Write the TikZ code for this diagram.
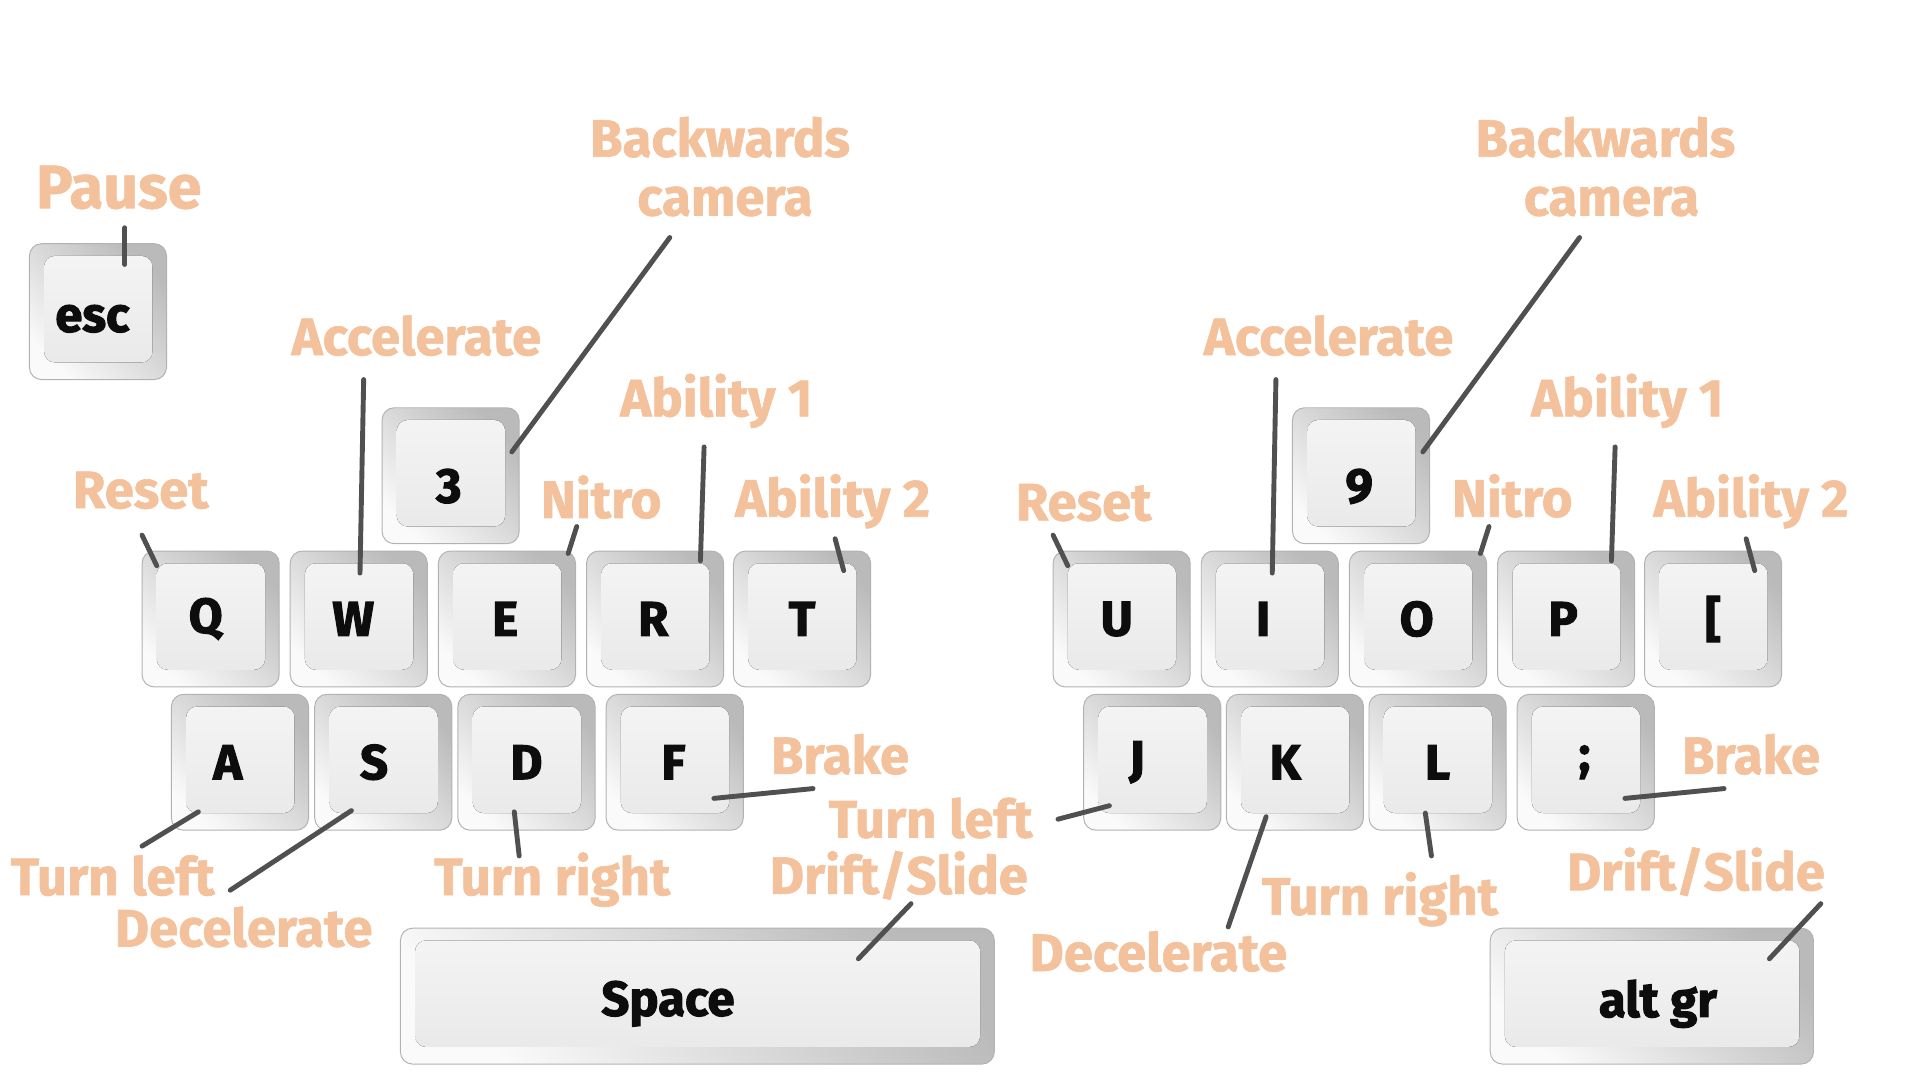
\documentclass[tikz,border=0pt]{standalone}
\usepackage{fontspec}
\setmainfont{Fira Sans}
\newfontfamily\keyfnt{Fira Sans}[BoldFeatures={FakeBold=2.2}]
\newfontfamily\lblfnt{Fira Sans}[BoldFeatures={FakeBold=1.2}]
\usetikzlibrary{calc}
\definecolor{lab}{HTML}{F3C19B}
\definecolor{conn}{HTML}{505050}
\begin{document}
\begin{tikzpicture}[x=1pt,y=-1pt,
  keybox/.style={minimum width=112pt, minimum height=111pt, inner sep=0pt,
    rounded corners=10pt, draw=black!30, line width=0.8pt,
    top color=black!27, bottom color=black!2, shading angle=-45,
    path picture={\fill[top color=black!4, bottom color=black!9, rounded corners=9pt]
      ([xshift=12pt,yshift=-10pt]path picture bounding box.north west) rectangle
      ([xshift=-11.5pt,yshift=14pt]path picture bounding box.south east);},
    font=\fontsize{40}{44}\selectfont\keyfnt\bfseries, text=black!95},
  lbl/.style={text=lab, font=\fontsize{43}{49}\selectfont\lblfnt\bfseries, anchor=base, inner sep=0pt},
  link/.style={draw=conn, line width=4pt, line cap=round}]
\useasboundingbox (0,0) rectangle (1568,882);
% ---------- left keyboard ----------
\node[keybox, text height=33pt, text depth=0pt] (esc) at (80,254.5) {esc\kern9pt};
\node[keybox, text height=44pt, text depth=0pt] (k3) at (368,388.5) {3\kern3pt};
\node[keybox] (Q) at (172,505.5) {Q\kern8pt};
\node[keybox] (W) at (293,505.5) {W\kern9pt};
\node[keybox] (E) at (414,505.5) {E\kern3pt};
\node[keybox] (R) at (535,505.5) {R\kern3pt};
\node[keybox] (T) at (655,505.5) {T};
\node[keybox] (A) at (196,622.5) {A\kern20pt};
\node[keybox] (S) at (313,622.5) {S\kern15pt};
\node[keybox] (D) at (430,622.5) {D};
\node[keybox] (F) at (551,622.5) {F\kern2pt};
\node[keybox, minimum width=485pt, text height=42pt, text depth=10pt] (space) at (569.5,813.5) {Space\kern48pt};
% ---------- right keyboard ----------
\node[keybox, text height=44pt, text depth=0pt] (k9) at (1111.5,388.5) {9\kern3pt};
\node[keybox] (U) at (916,505.5) {U\kern8pt};
\node[keybox] (I) at (1037,505.5) {I\kern11pt};
\node[keybox] (O) at (1158,505.5) {O\kern2pt};
\node[keybox] (P) at (1279,505.5) {P\kern5pt};
\node[keybox] (lb) at (1399,505.5) {[};
\node[keybox] (J) at (941,622.5) {J\kern25pt};
\node[keybox] (K) at (1057.5,622.5) {K\kern16pt};
\node[keybox] (L) at (1174,622.5) {L};
\node[keybox] (sc) at (1295,622.5) {;\kern2pt};
\node[keybox, minimum width=264pt, text height=44pt, text depth=10pt] (altgr) at (1349,813.5) {\kern10pt alt gr};
% ---------- labels left ----------
\node[lbl, font=\fontsize{50}{56}\selectfont\lblfnt\bfseries] (lPause) at (97,170) {Pause};
\node[lbl] (lBack1) at (588,128) {Backwards};
\node[lbl] (lBack2) at (592,176) {camera};
\node[lbl] (lAcc) at (340,290) {Accelerate};
\node[lbl] (lAb1) at (585,340) {Ability 1};
\node[lbl] (lReset) at (115,415) {Reset};
\node[lbl] (lNitro) at (491,423) {Nitro};
\node[lbl] (lAb2) at (680,422) {Ability 2};
\node[lbl] (lBrake) at (686,632) {Brake};
\node[lbl] (lTL) at (92,731) {Turn left};
\node[lbl] (lDec) at (199,773) {Decelerate};
\node[lbl] (lTR) at (451,731) {Turn right};
\node[lbl] (lDrift) at (734,730) {Drift/Slide};
% ---------- labels right ----------
\node[lbl] (rBack1) at (1311,128) {Backwards};
\node[lbl] (rBack2) at (1316,176) {camera};
\node[lbl] (rAcc) at (1085,290) {Accelerate};
\node[lbl] (rAb1) at (1329,340) {Ability 1};
\node[lbl] (rReset) at (885,425) {Reset};
\node[lbl] (rNitro) at (1235,422) {Nitro};
\node[lbl] (rAb2) at (1430,422) {Ability 2};
\node[lbl] (rBrake) at (1430,632) {Brake};
\node[lbl] (rTL) at (760,684) {Turn left};
\node[lbl] (rTR) at (1127,747) {Turn right};
\node[lbl] (rDrift) at (1385,727) {Drift/Slide};
\node[lbl] (rDec) at (946,793) {Decelerate};
% ---------- connector end points ----------
\coordinate (pPause) at (102,186);  \coordinate (qPause) at (102,216);
\coordinate (pBackL) at (547,194);  \coordinate (qBackL) at (418,369);
\coordinate (pAccL) at (297,310);   \coordinate (qAccL) at (294,468);
\coordinate (pAb1L) at (575,365);   \coordinate (qAb1L) at (572,458);
\coordinate (pResL) at (116,437);   \coordinate (qResL) at (128,462);
\coordinate (pNitL) at (471,430);   \coordinate (qNitL) at (464,452);
\coordinate (pAb2L) at (682,440);   \coordinate (qAb2L) at (689,466);
\coordinate (pBrkL) at (664,644);   \coordinate (qBrkL) at (583,652);
\coordinate (pTLL) at (116,691);    \coordinate (qTLL) at (162,663);
\coordinate (pDecL) at (188,727);   \coordinate (qDecL) at (287,662);
\coordinate (pTRL) at (424,699);    \coordinate (qTRL) at (420,663);
\coordinate (pDrL) at (744,738);    \coordinate (qDrL) at (701,783);
\coordinate (pBackR) at (1290,194); \coordinate (qBackR) at (1162,369);
\coordinate (pAccR) at (1042,310);  \coordinate (qAccR) at (1039,468);
\coordinate (pAb1R) at (1319,365);  \coordinate (qAb1R) at (1316,458);
\coordinate (pResR) at (860,437);   \coordinate (qResR) at (872,462);
\coordinate (pNitR) at (1216,430);  \coordinate (qNitR) at (1209,452);
\coordinate (pAb2R) at (1426,440);  \coordinate (qAb2R) at (1433,466);
\coordinate (pBrkR) at (1408,644);  \coordinate (qBrkR) at (1327,652);
\coordinate (pTLR) at (864,669);    \coordinate (qTLR) at (906,658);
\coordinate (pDecR) at (1003,757);  \coordinate (qDecR) at (1034,667);
\coordinate (pTRR) at (1169,699);   \coordinate (qTRR) at (1164,664);
\coordinate (pDrR) at (1487,738);   \coordinate (qDrR) at (1445,783);
% ---------- connectors ----------
\foreach \n in {Pause,BackL,AccL,Ab1L,ResL,NitL,Ab2L,BrkL,TLL,DecL,TRL,DrL,
                BackR,AccR,Ab1R,ResR,NitR,Ab2R,BrkR,TLR,DecR,TRR,DrR}
  \draw[link] (p\n) -- (q\n);
\end{tikzpicture}
\end{document}
